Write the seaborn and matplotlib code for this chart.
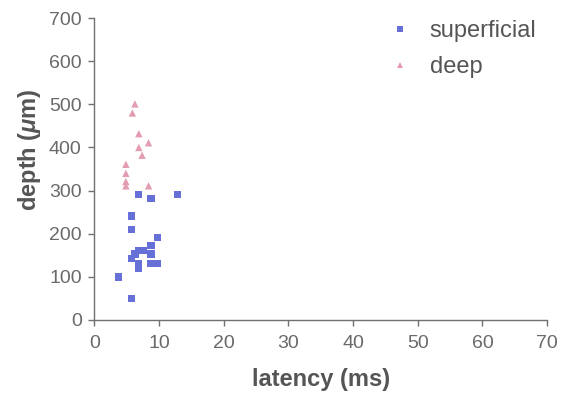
import matplotlib
matplotlib.use("Agg")
import matplotlib.pyplot as plt
import seaborn as sns
import pandas as pd

sup_latency = [6.8, 8.8, 12.9, 5.8, 5.8, 9.8, 8.8, 6.8, 7.6, 8.8, 6.3, 5.8, 6.8, 6.8, 8.8, 9.8, 3.8, 5.8]
sup_depth = [291, 281, 291, 241, 210, 192, 173, 161, 161, 153, 153, 142, 131, 120, 131, 131, 100, 50]
deep_latency = [6.3, 5.9, 6.9, 8.4, 6.9, 7.4, 4.9, 4.9, 4.9, 4.9, 8.4]
deep_depth = [501, 480, 432, 411, 400, 382, 361, 340, 321, 311, 311]

df = pd.DataFrame({
    "latency": sup_latency + deep_latency,
    "depth": sup_depth + deep_depth,
    "group": ["superficial"] * len(sup_latency) + ["deep"] * len(deep_latency),
})

sns.set_style("ticks")
plt.rcParams['font.family'] = ['Liberation Sans', 'DejaVu Sans']
plt.rcParams['mathtext.fontset'] = 'custom'
plt.rcParams['mathtext.it'] = 'Liberation Sans:italic:bold'
plt.rcParams['mathtext.rm'] = 'Liberation Sans:bold'

fig = plt.figure(figsize=(5.64, 4.03), dpi=100)
ax = fig.add_axes([0.167, 0.206, 0.803, 0.749])

palette = {"superficial": "#6670d6", "deep": "#e49cb0"}
markers = {"superficial": "s", "deep": "^"}
sns.scatterplot(data=df, x="latency", y="depth", hue="group", style="group",
                palette=palette, markers=markers, s=28, linewidth=0, ax=ax)

ax.set_xlim(0, 70)
ax.set_ylim(0, 700)
ax.set_xticks(range(0, 71, 10))
ax.set_yticks(range(0, 701, 100))
for s in ["top", "right"]:
    ax.spines[s].set_visible(False)
for s in ["left", "bottom"]:
    ax.spines[s].set_color("#707070")
    ax.spines[s].set_linewidth(1.0)
ax.tick_params(axis="both", colors="#707070", labelsize=14, length=4, width=1.0,
               labelcolor="#6a6a6a")
ax.tick_params(axis="y", pad=5)
ax.tick_params(axis="x", pad=7)
ax.set_xlabel("latency (ms)", fontsize=17, fontweight="bold", color="#555555", labelpad=11)
ax.set_ylabel("depth ($\\mu$m)", fontsize=17, fontweight="bold", color="#555555")
ax.yaxis.set_label_coords(-0.112, 0.563)

leg = ax.legend(loc="upper right", frameon=False, fontsize=17, markerscale=0.7,
                handletextpad=0.77, handlelength=1.0, borderaxespad=0.0, labelspacing=0.6,
                bbox_to_anchor=(0.997, 1.025))
for t in leg.get_texts():
    t.set_color("#555555")

fig.savefig("out.png", dpi=100)
